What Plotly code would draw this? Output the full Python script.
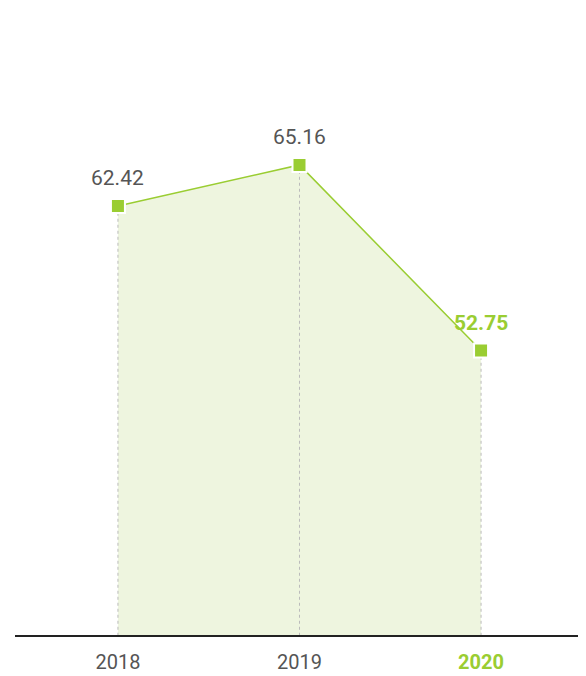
import plotly.graph_objects as go

years = ["2018", "2019", "2020"]
values = [62.42, 65.16, 52.75]

GREEN = "#9ACD32"
FILL = "#EEF5DF"
GREY_TEXT = "#555555"
FONT = "Roboto"

xs = list(range(len(years)))

fig = go.Figure()

# area + line
fig.add_trace(go.Scatter(
    x=xs,
    y=values,
    mode="lines",
    fill="tozeroy",
    fillcolor=FILL,
    line=dict(color=GREEN, width=1.5),
    hoverinfo="skip",
    showlegend=False
))

# dashed drop lines from each point to the baseline
for i, v in zip(xs, values):
    fig.add_trace(go.Scatter(
        x=[i, i], y=[0, v],
        mode="lines",
        line=dict(color="#BBBBBB", width=1, dash="3px,3px"),
        hoverinfo="skip",
        showlegend=False
    ))

# markers
fig.add_trace(go.Scatter(
    x=xs,
    y=values,
    mode="markers",
    marker=dict(symbol="square", size=14, color=GREEN,
                line=dict(color="white", width=2)),
    showlegend=False
))

# value labels
for i, v in zip(xs, values):
    last = i == len(values) - 1
    fig.add_annotation(
        x=i, y=v,
        text=f"<b>{v:.2f}</b>" if last else f"{v:.2f}",
        showarrow=False,
        yshift=28,
        font=dict(family=FONT, size=21, color=GREEN if last else GREY_TEXT)
    )

ticktext = [y if i < len(years) - 1 else f"<b><span style='color:{GREEN}'>{y}</span></b>"
            for i, y in enumerate(years)]

# page body adds an 8px offset, so the figure is drawn slightly smaller
fig.update_layout(
    width=578,
    height=668,
    margin=dict(l=7, r=0, t=0, b=41),
    paper_bgcolor="white",
    plot_bgcolor="white",
    font=dict(family=FONT, size=20, color=GREY_TEXT),
    xaxis=dict(
        range=[-0.567, 2.578],
        tickmode="array",
        tickvals=xs,
        ticktext=ticktext,
        showgrid=False,
        zeroline=False,
        showline=True,
        linecolor="#222222",
        linewidth=2,
        ticks="",
        ticklabelstandoff=8,
        tickfont=dict(family=FONT, size=20, color=GREY_TEXT)
    ),
    yaxis=dict(
        range=[33.74, 75.65],
        visible=False,
        showgrid=False,
        zeroline=False
    )
)

fig.write_html("out.html")
